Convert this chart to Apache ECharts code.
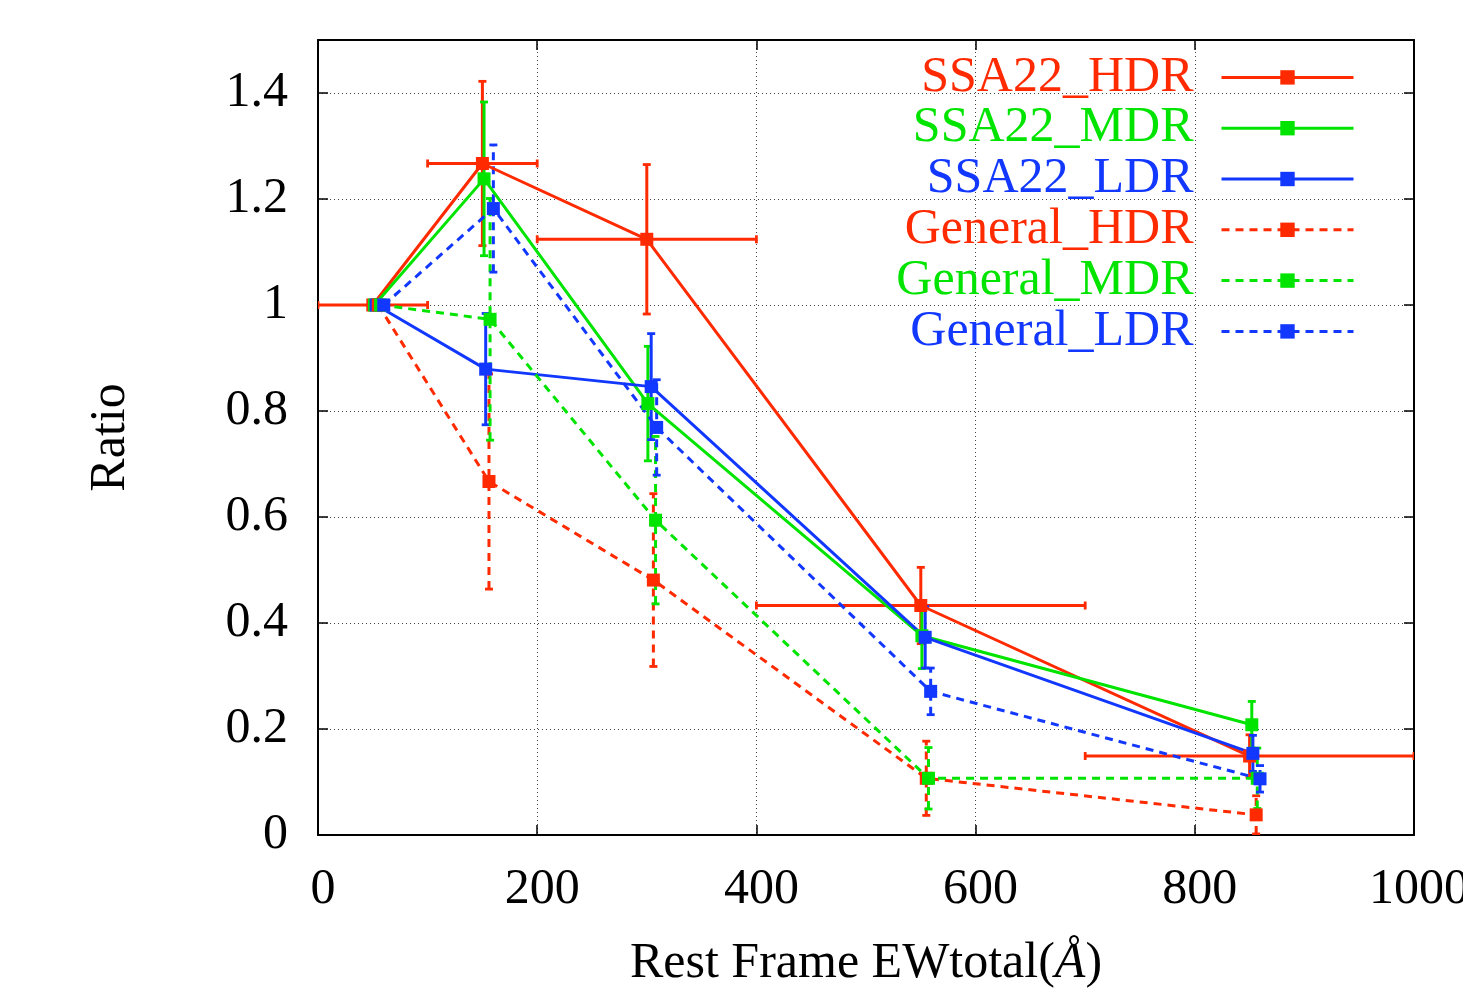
<!DOCTYPE html>
<html>
<head>
<meta charset="utf-8">
<script src="https://cdn.jsdelivr.net/npm/echarts@6/dist/echarts.min.js"></script>
<style>
html,body{margin:0;padding:0;background:#fff;overflow:hidden;}
#chart{width:1463px;height:991px;}
</style>
</head>
<body>
<div id="chart"></div>
<script>
// ---- data ----
const seriesNames = ['SSA22_HDR','SSA22_MDR','SSA22_LDR','General_HDR','General_MDR','General_LDR'];
const xTicks = [0,200,400,600,800,1000];
const yTicks = [0,0.2,0.4,0.6,0.8,1,1.2,1.4];

const ssa22HdrX    = [50,150,300,550,850];
const ssa22HdrY    = [1.0,1.267,1.124,0.433,0.149];
const ssa22HdrYErr = [0,0.155,0.141,0.072,0.040];
const ssa22HdrXLo  = [0,100,200,400,700];
const ssa22HdrXHi  = [100,200,400,700,1000];

const ssa22MdrX    = [51.5,151.5,301,551,852];
const ssa22MdrY    = [1.0,1.238,0.814,0.376,0.208];
const ssa22MdrYErr = [0,0.145,0.108,0.062,0.044];

const ssa22LdrX    = [53,153,304,554,853];
const ssa22LdrY    = [1.0,0.879,0.846,0.373,0.154];
const ssa22LdrYErr = [0,0.105,0.100,0.058,0.034];

const generalHdrX    = [55,156,306,555,856];
const generalHdrY    = [1.0,0.667,0.481,0.107,0.038];
const generalHdrYErr = [0,0.203,0.163,0.070,0.036];

const generalMdrX    = [57,157,308,557,857];
const generalMdrY    = [1.0,0.973,0.594,0.107,0.107];
const generalMdrYErr = [0,0.228,0.158,0.058,0.057];

const generalLdrX    = [60,160,309,559,859.5];
const generalLdrY    = [1.0,1.182,0.769,0.271,0.106];
const generalLdrYErr = [0,0.120,0.090,0.044,0.025];

// ---- styles ----
const RED = '#ff2a00', GREEN = '#00e400', BLUE = '#1238ff';
const FONT = '"Liberation Serif","DejaVu Serif",serif';
const DASH = [8,6];

const defs = [
  {name:seriesNames[0], x:ssa22HdrX, y:ssa22HdrY, ye:ssa22HdrYErr, xlo:ssa22HdrXLo, xhi:ssa22HdrXHi, color:RED, dashed:false},
  {name:seriesNames[1], x:ssa22MdrX, y:ssa22MdrY, ye:ssa22MdrYErr, color:GREEN, dashed:false},
  {name:seriesNames[2], x:ssa22LdrX, y:ssa22LdrY, ye:ssa22LdrYErr, color:BLUE, dashed:false},
  {name:seriesNames[3], x:generalHdrX, y:generalHdrY, ye:generalHdrYErr, color:RED, dashed:true},
  {name:seriesNames[4], x:generalMdrX, y:generalMdrY, ye:generalMdrYErr, color:GREEN, dashed:true},
  {name:seriesNames[5], x:generalLdrX, y:generalLdrY, ye:generalLdrYErr, color:BLUE, dashed:true}
];

function errSeries(d){
  const data = d.x.map((x,i)=>[x, d.y[i], d.y[i]-d.ye[i], d.y[i]+d.ye[i],
    d.xlo ? d.xlo[i] : x, d.xhi ? d.xhi[i] : x]);
  return {
    type:'custom', name:d.name+'_err', data:data, clip:true, silent:true,
    encode:{x:[0,4,5], y:[0,1,2,3]},
    renderItem:function(params, api){
      const x=api.value(0), y=api.value(1), ylo=api.value(2), yhi=api.value(3), xl=api.value(4), xh=api.value(5);
      const style = {stroke:d.color, lineWidth:3, lineDash: d.dashed ? DASH : null, fill:null};
      const capStyle = {stroke:d.color, lineWidth:2.8};
      const children = [];
      const cap = 4;
      if (yhi > ylo) {
        const lo = api.coord([x, ylo]), hi = api.coord([x, yhi]);
        children.push({type:'line', shape:{x1:lo[0], y1:lo[1], x2:hi[0], y2:hi[1]}, style:style});
        children.push({type:'line', shape:{x1:lo[0]-cap, y1:lo[1], x2:lo[0]+cap, y2:lo[1]}, style:capStyle});
        children.push({type:'line', shape:{x1:hi[0]-cap, y1:hi[1], x2:hi[0]+cap, y2:hi[1]}, style:capStyle});
      }
      if (xh > xl) {
        const l = api.coord([xl, y]), r = api.coord([xh, y]);
        children.push({type:'line', shape:{x1:l[0], y1:l[1], x2:r[0], y2:r[1]}, style:style});
        children.push({type:'line', shape:{x1:l[0], y1:l[1]-cap, x2:l[0], y2:l[1]+cap}, style:capStyle});
        children.push({type:'line', shape:{x1:r[0], y1:r[1]-cap, x2:r[0], y2:r[1]+cap}, style:capStyle});
      }
      return {type:'group', children:children};
    }
  };
}

function lineSeries(d){
  return {
    type:'line', name:d.name, data:d.x.map((x,i)=>[x, d.y[i]]),
    symbol:'rect', symbolSize:13, showSymbol:true, animation:false,
    itemStyle:{color:d.color},
    lineStyle:{color:d.color, width:3, type: d.dashed ? DASH : 'solid'},
    emphasis:{disabled:true}
  };
}

const series = [];
defs.forEach(d=>{ series.push(lineSeries(d)); series.push(errSeries(d)); });

const axisCommon = {
  axisLine:{show:true, onZero:false, lineStyle:{color:'#000', width:2}},
  axisTick:{show:true, inside:true, length:10, lineStyle:{color:'#000', width:1.5}}
};

const chart = echarts.init(document.getElementById('chart'), null, {renderer:'canvas'});
chart.setOption({
  animation:false,
  backgroundColor:'#fff',
  grid:{left:318, right:49, top:40, bottom:156, containLabel:false, outerBoundsMode:'none'},
  legend:{
    orient:'vertical', right:103, top:47, align:'right',
    itemWidth:132, itemHeight:18, itemGap:0,
    selectedMode:false,
    lineStyle:{width:3},
    textStyle:{fontFamily:FONT, fontSize:50, lineHeight:50.8, padding:[0,23,0,0]},
    data: defs.map(d=>({name:d.name, textStyle:{color:d.color}}))
  },
  xAxis:[
    Object.assign({
      type:'value', min:0, max:1000, interval:200, position:'bottom',
      axisLabel:{fontFamily:FONT, fontSize:50, color:'#000', margin:30, padding:[0,0,0,10], formatter:v=>String(v)},
      splitLine:{show:true, lineStyle:{color:'#444', type:[1,3], width:1}},
      name:'Rest Frame EWtotal({i|Å})', nameLocation:'middle', nameGap:104,
      nameTextStyle:{fontFamily:FONT, fontSize:50, color:'#000',
        rich:{i:{fontFamily:FONT, fontSize:50, fontStyle:'italic', color:'#000'}}}
    }, axisCommon),
    Object.assign({
      type:'value', min:0, max:1000, interval:200, position:'top',
      axisLabel:{show:false}, splitLine:{show:false}
    }, axisCommon)
  ],
  yAxis:[
    Object.assign({
      type:'value', min:0, max:1.5, interval:0.2, position:'left',
      axisLabel:{fontFamily:FONT, fontSize:50, color:'#000', margin:30, showMaxLabel:false,
        formatter:v=>String(+v.toFixed(1))},
      splitLine:{show:true, lineStyle:{color:'#444', type:[1,3], width:1}},
      name:'Ratio', nameLocation:'middle', nameGap:182,
      nameTextStyle:{fontFamily:FONT, fontSize:50, color:'#000'}
    }, axisCommon),
    Object.assign({
      type:'value', min:0, max:1.5, interval:0.2, position:'right',
      axisLabel:{show:false}, splitLine:{show:false}
    }, axisCommon)
  ],
  series:series
});
</script>
</body>
</html>
